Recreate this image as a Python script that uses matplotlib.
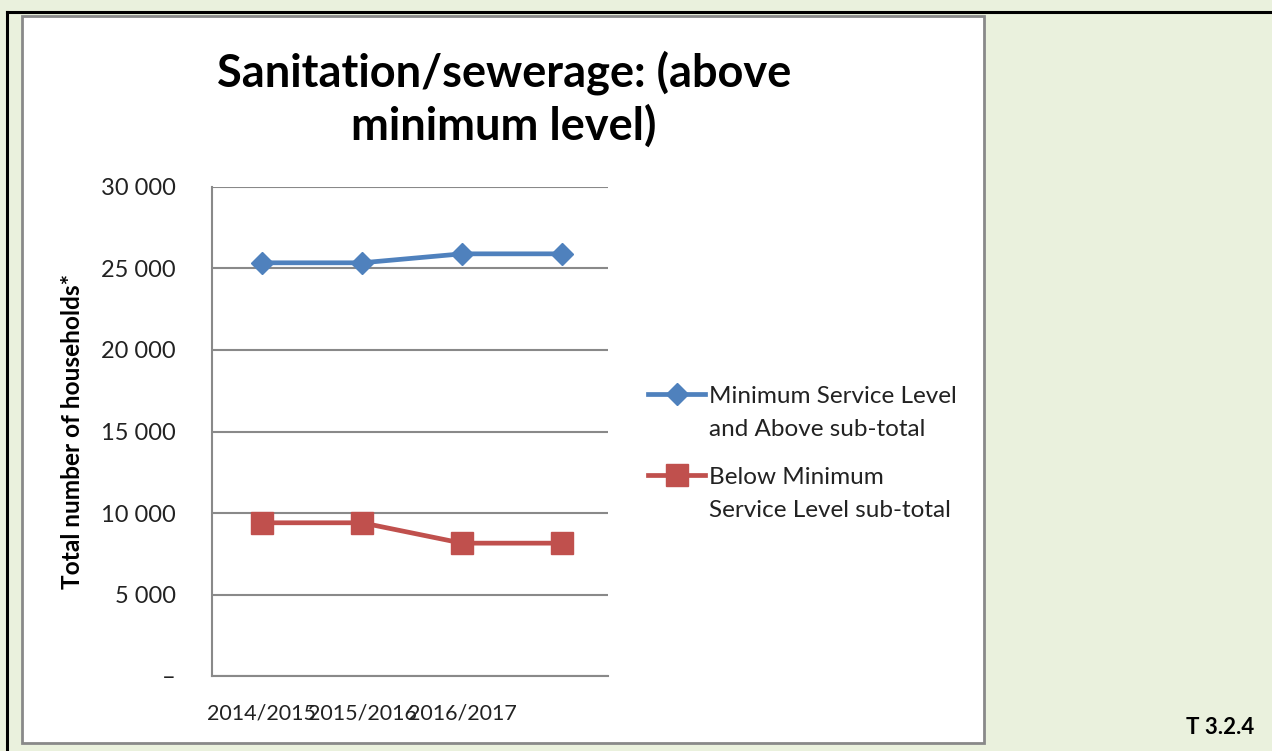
import matplotlib.pyplot as plt
from matplotlib.patches import Rectangle
from matplotlib.lines import Line2D

plt.rcParams['font.family'] = ['Lato', 'DejaVu Sans']

years = ['2014/2015', '2015/2016', '2016/2017', '']
above_min = [25350, 25350, 25900, 25900]
below_min = [9400, 9400, 8150, 8150]
y_ticks = [0, 5000, 10000, 15000, 20000, 25000, 30000]
series_labels = ['Minimum Service Level\nand Above sub-total',
                 'Below Minimum\nService Level sub-total']

W, H = 1272, 751
bg = '#EAF1DD'
grey = '#898989'
blue = '#4F81BD'
red = '#C0504D'
text_col = '#222222'

fig = plt.figure(figsize=(W / 100, H / 100), dpi=100, facecolor=bg)

# pixel coords -> figure fraction
def fx(x):
    return x / W

def fy(y):
    return 1 - y / H

fig.add_artist(Line2D([fx(7), fx(7)], [fy(12), 0], color='black', lw=2.2))
fig.add_artist(Line2D([fx(7), 1], [fy(12), fy(12)], color='black', lw=2.2))
fig.add_artist(Rectangle((fx(22), fy(743)), fx(984) - fx(22), fy(16) - fy(743),
                         facecolor='white', edgecolor=grey, lw=2, zorder=0))

ax = fig.add_axes([fx(212), fy(676), fx(608) - fx(212), fy(187) - fy(676)])
ax.set_facecolor('white')
x = range(len(years))
styles = [dict(color=blue, marker='D', ms=11), dict(color=red, marker='s', ms=15.5)]
for vals, st in zip([above_min, below_min], styles):
    ax.plot(x, vals, lw=3.4, clip_on=False, **st)

ax.set_xlim(-0.5, 3.46)
ax.set_ylim(0, 30000)
ax.set_xticks(list(x))
ax.set_xticklabels(years, fontsize=15.5, color=text_col)
ax.set_yticks(y_ticks)
ax.set_yticklabels(['–' if v == 0 else f'{v:,}'.replace(',', ' ') for v in y_ticks],
                   fontsize=17, color=text_col)
ax.tick_params(axis='both', length=0)
ax.tick_params(axis='y', pad=26)
ax.tick_params(axis='x', pad=20)
ax.grid(axis='y', color=grey, lw=1.5)
ax.set_axisbelow(True)
for side in ['top', 'right']:
    ax.spines[side].set_visible(False)
for side in ['left', 'bottom']:
    ax.spines[side].set_color(grey)
    ax.spines[side].set_linewidth(1.5)

fig.text(fx(73), fy(431), 'Total number of households*', rotation=90,
         ha='center', va='center', fontsize=17.6, fontweight='bold')
fig.text(fx(504), fy(99), 'Sanitation/sewerage: (above\nminimum level)',
         ha='center', va='center', fontsize=32.5, fontweight='bold',
         linespacing=1.25)

# legend: handle sits on the first line of each label
for i, (label, st) in enumerate(zip(series_labels, styles)):
    base = 403 + i * 81
    fig.add_artist(Line2D([fx(648), fx(676.5), fx(705)], [fy(base - 9)] * 3,
                          lw=3.4, markevery=[1], **st))
    for j, line in enumerate(label.split('\n')):
        fig.text(fx(709), fy(base + j * 33), line, ha='left', va='baseline',
                 fontsize=17.5, color=text_col)

fig.text(fx(1254), fy(738), 'T 3.2.4', ha='right', va='bottom',
         fontsize=16, fontweight='bold')

fig.savefig('out.png', dpi=100, facecolor=bg)
